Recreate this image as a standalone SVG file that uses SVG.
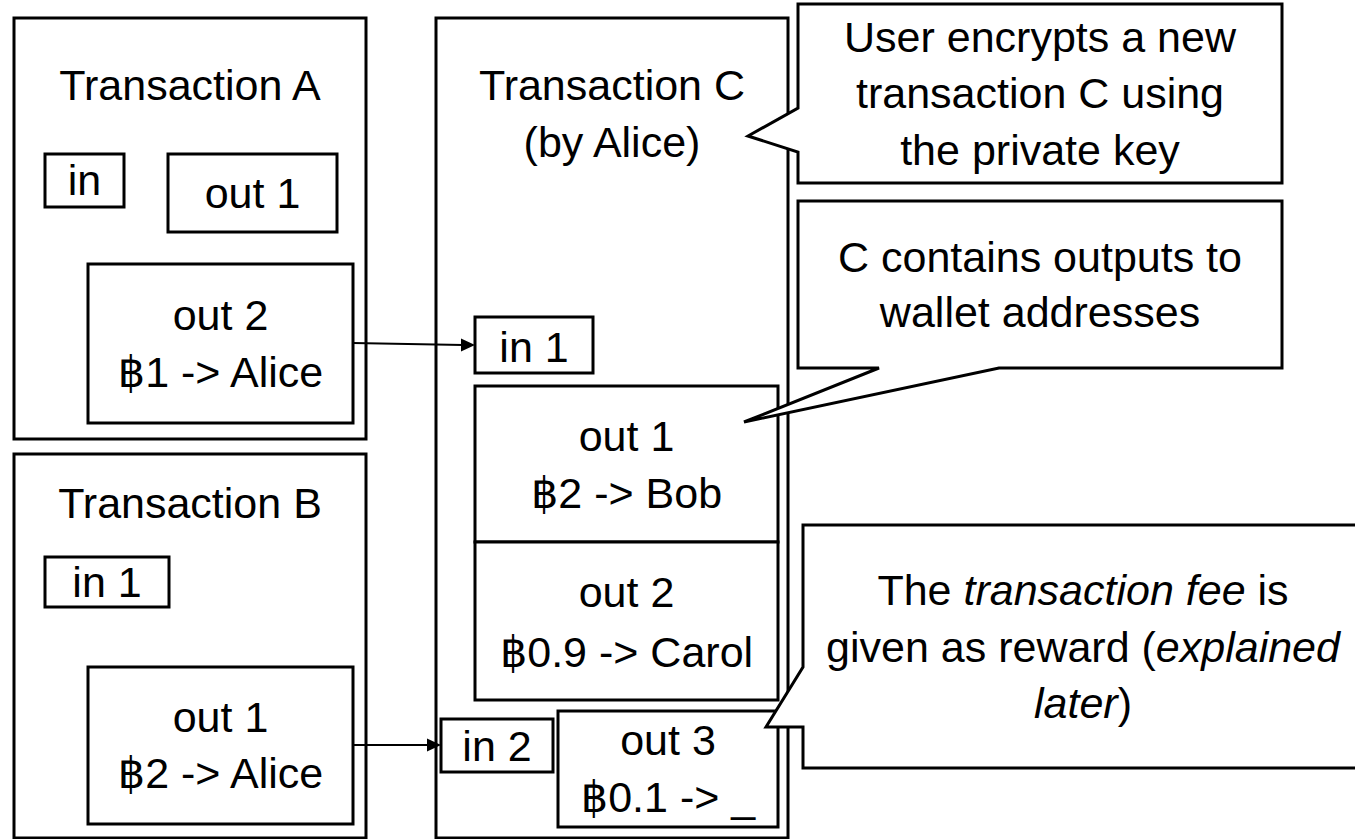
<svg xmlns="http://www.w3.org/2000/svg" width="1355" height="839" viewBox="0 0 1355 839">
<style>
.b{fill:#fff;stroke:#000;stroke-width:3}
.t{font-family:"Liberation Sans","DejaVu Sans",sans-serif;font-size:43px;fill:#000;text-anchor:middle}
.i{font-style:italic}
.c{fill:none;stroke:#000;stroke-width:2}
.h{fill:#000;stroke:none}
</style>
<rect width="1355" height="839" fill="#fff"/>
<g id="txA">
<rect class="b" x="14" y="18" width="352" height="421"/>
<text class="t" x="190" y="100">Transaction A</text>
</g>
<g id="txA-in"><rect class="b" x="45" y="154" width="79" height="53"/><text class="t" x="84.5" y="195">in</text></g>
<g id="txA-out1"><rect class="b" x="168" y="154" width="169" height="78"/><text class="t" x="252.5" y="208">out 1</text></g>
<g id="txA-out2"><rect class="b" x="88" y="264" width="265" height="159"/><text class="t" x="220.5" y="330">out 2</text><text class="t" x="220.5" y="387">฿1 -&gt; Alice</text></g>
<g id="txB">
<rect class="b" x="14" y="454" width="352" height="384"/>
<text class="t" x="190" y="518">Transaction B</text>
</g>
<g id="txB-in1"><rect class="b" x="45" y="557" width="124" height="50"/><text class="t" x="107" y="597">in 1</text></g>
<g id="txB-out1"><rect class="b" x="88" y="667" width="265" height="157"/><text class="t" x="220.5" y="732">out 1</text><text class="t" x="220.5" y="788">฿2 -&gt; Alice</text></g>
<g id="txC">
<rect class="b" x="436" y="18" width="352" height="820"/>
<text class="t" x="612" y="100">Transaction C</text>
<text class="t" x="612" y="157">(by Alice)</text>
</g>
<g id="txC-in1"><rect class="b" x="475" y="317" width="118" height="56"/><text class="t" x="534" y="362">in 1</text></g>
<g id="txC-out1"><rect class="b" x="475" y="386" width="303" height="156"/><text class="t" x="626.5" y="451">out 1</text><text class="t" x="626.5" y="508">฿2 -&gt; Bob</text></g>
<g id="txC-out2"><rect class="b" x="475" y="542" width="303" height="158"/><text class="t" x="626.5" y="607">out 2</text><text class="t" x="626.5" y="667">฿0.9 -&gt; Carol</text></g>
<g id="txC-in2"><rect class="b" x="441" y="719" width="112" height="53"/><text class="t" x="497" y="761">in 2</text></g>
<g id="txC-out3"><rect class="b" x="558" y="711" width="220" height="116"/><text class="t" x="668" y="755">out 3</text><text class="t" x="668" y="812">฿0.1 -&gt; _</text></g>
<g id="connectors">
<line class="c" x1="353" y1="343" x2="463" y2="345"/>
<polygon class="h" points="475,345 461,338.5 461,351.5"/>
<line class="c" x1="353" y1="745" x2="429" y2="745"/>
<polygon class="h" points="441,745 427,738.5 427,751.5"/>
</g>
<g id="note1">
<path class="b" d="M798,4 H1282 V183 H798 V152 L748,136 L798,108 Z"/>
<text class="t" x="1040" y="52">User encrypts a new</text>
<text class="t" x="1040" y="108">transaction C using</text>
<text class="t" x="1040" y="165">the private key</text>
</g>
<g id="note2">
<path class="b" d="M798,201 H1282 V368 H999 L744,422 L879,368 H798 Z"/>
<text class="t" x="1040" y="272">C contains outputs to</text>
<text class="t" x="1040" y="327">wallet addresses</text>
</g>
<g id="note3">
<path class="b" d="M803,525 H1362 V768 H803 V727 H766 L803,667 Z"/>
<text class="t" x="1083" y="605">The <tspan class="i">transaction fee</tspan> is</text>
<text class="t" x="1083" y="662">given as reward (<tspan class="i">explained</tspan></text>
<text class="t" x="1083" y="718"><tspan class="i">later</tspan>)</text>
</g>
</svg>
